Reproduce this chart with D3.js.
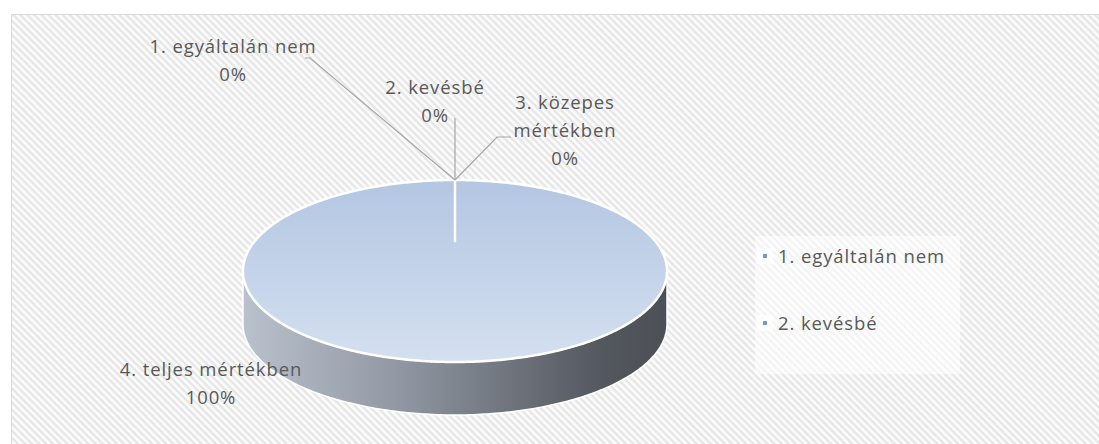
<!DOCTYPE html>
<html>
<head>
<meta charset="utf-8">
<script src="https://cdn.jsdelivr.net/npm/d3@7"></script>
<style>
  body { margin: 0; background: #fff; }
  svg { display: block; }
  text { font-family: "Open Sans", "Noto Sans", sans-serif; fill: #595959; letter-spacing: 0.9px; }
</style>
</head>
<body>
<svg id="chart" width="1099" height="444"></svg>
<script>
// DATA
const categories = ["1. egyáltalán nem", "2. kevésbé", "3. közepes mértékben", "4. teljes mértékben"];
const values = [0, 0, 0, 100];
const labelLines = [["1. egyáltalán nem"], ["2. kevésbé"], ["3. közepes", "mértékben"], ["4. teljes mértékben"]];
const legendItems = categories.slice(0, 2);

// CANVAS SETUP
const svg = d3.select("#chart");
const W = +svg.attr("width"), H = +svg.attr("height");

const cx = 455, cy = 271, rx = 212, ry = 91, depth = 53, hubOffset = 30;
const fontSize = 18.5, lineH = 28;

const defs = svg.append("defs");

const pat = defs.append("pattern")
  .attr("id", "hatch")
  .attr("patternUnits", "userSpaceOnUse")
  .attr("width", 5)
  .attr("height", 5)
  .attr("patternTransform", "rotate(45)");
pat.append("rect").attr("width", 5).attr("height", 5).attr("fill", "#fcfcfc");
pat.append("rect").attr("width", 5).attr("height", 2.4).attr("fill", "#e6e6e6");

const topGrad = defs.append("linearGradient")
  .attr("id", "topGrad").attr("x1", 0).attr("y1", 0).attr("x2", 0).attr("y2", 1);
topGrad.append("stop").attr("offset", "0%").attr("stop-color", "#b3c6e2");
topGrad.append("stop").attr("offset", "100%").attr("stop-color", "#d4e0f0");

const sideGrad = defs.append("linearGradient")
  .attr("id", "sideGrad").attr("x1", 0).attr("y1", 0).attr("x2", 1).attr("y2", 0);
[["0%", "#b9c1cc"], ["35%", "#939aa5"], ["65%", "#6c717a"], ["85%", "#53575e"], ["100%", "#4c5056"]]
  .forEach(([o, c]) => sideGrad.append("stop").attr("offset", o).attr("stop-color", c));

// background + frame
svg.append("rect")
  .attr("x", 11.5).attr("y", 14.5)
  .attr("width", W).attr("height", H)
  .attr("fill", "url(#hatch)")
  .attr("stroke", "#d9d9d9")
  .attr("stroke-width", 1);

// DATA MANIPULATE
const pie = d3.pie().sort(null).value((d) => d.value);
const data = categories.map((c, i) => ({ category: c, value: values[i], lines: labelLines[i] }));
const arcs = pie(data);
const total = d3.sum(values);
const pct = d3.format(".0%");

// ellipse projection of a pie angle
const ex = (a) => cx + rx * Math.sin(a);
const ey = (a) => cy - ry * Math.cos(a);

const g = svg.append("g");

// side wall (front half)
const sidePts = d3.range(0, 181).map((k) => Math.PI / 2 + (k / 180) * Math.PI);
let side = "M" + ex(Math.PI / 2) + "," + ey(Math.PI / 2);
sidePts.forEach((a) => { side += "L" + ex(a) + "," + ey(a); });
sidePts.slice().reverse().forEach((a) => { side += "L" + ex(a) + "," + (ey(a) + depth); });
side += "Z";
g.append("path")
  .attr("d", side)
  .attr("fill", "url(#sideGrad)")
  .attr("stroke", "#fff")
  .attr("stroke-width", 1.5);

// top face slices
const slicePath = (d) => {
  const n = Math.max(2, Math.ceil((d.endAngle - d.startAngle) / 0.01));
  let p = "M" + cx + "," + (cy - hubOffset);
  d3.range(n + 1).forEach((k) => {
    const a = d.startAngle + (k / n) * (d.endAngle - d.startAngle);
    p += "L" + ex(a) + "," + ey(a);
  });
  return p + "Z";
};

g.selectAll("path.slice")
  .data(arcs.filter((d) => d.value > 0))
  .join("path")
  .attr("class", "slice")
  .attr("d", slicePath)
  .attr("fill", "url(#topGrad)")
  .attr("stroke", "#fff")
  .attr("stroke-width", 2.5)
  .attr("stroke-linejoin", "round");

// LABELS (positions are layout, anchors come from the pie)
const labelPos = [
  { x: 233, y: 53, elbow: [310, 58], end: [305, 58] },
  { x: 435, y: 94, elbow: null, end: [455, 118] },
  { x: 565, y: 109, elbow: [497, 137], end: [511, 137] },
  { x: 211, y: 376, elbow: null, end: null },
];

const lab = svg.append("g");
arcs.forEach((d, i) => {
  const lp = labelPos[i];
  if (lp.end) {
    const a = d.value > 0 ? (d.startAngle + d.endAngle) / 2 : d.startAngle;
    const pts = [[ex(a), ey(a)]];
    if (lp.elbow) pts.push(lp.elbow);
    pts.push(lp.end);
    lab.append("path")
      .attr("d", d3.line()(pts))
      .attr("fill", "none")
      .attr("stroke", "#a6a6a6")
      .attr("stroke-width", 1.2);
  }
  const t = lab.append("text")
    .attr("x", lp.x)
    .attr("y", lp.y)
    .attr("text-anchor", "middle")
    .attr("font-size", fontSize);
  d.data.lines.concat([pct(d.value / total)]).forEach((s, k) => {
    t.append("tspan").attr("x", lp.x).attr("dy", k === 0 ? 0 : lineH).text(s);
  });
});

// LEGEND
const lg = svg.append("g");
lg.append("rect")
  .attr("x", 755).attr("y", 236)
  .attr("width", 205).attr("height", 138)
  .attr("fill", "#fff").attr("opacity", 0.55);

const legendY = d3.scalePoint().domain(legendItems).range([256, 323]);
const li = lg.selectAll("g.item").data(legendItems).join("g").attr("class", "item")
  .attr("transform", (d) => `translate(0,${legendY(d)})`);
li.append("rect").attr("x", 757).attr("y", -8).attr("width", 16).attr("height", 16).attr("fill", "#fff").attr("opacity", 0.7);
li.append("rect").attr("x", 763).attr("y", -2).attr("width", 4).attr("height", 4).attr("fill", "#6a9bd2");
li.append("text").attr("x", 778).attr("y", 7).attr("font-size", fontSize).text((d) => d);
</script>
</body>
</html>
